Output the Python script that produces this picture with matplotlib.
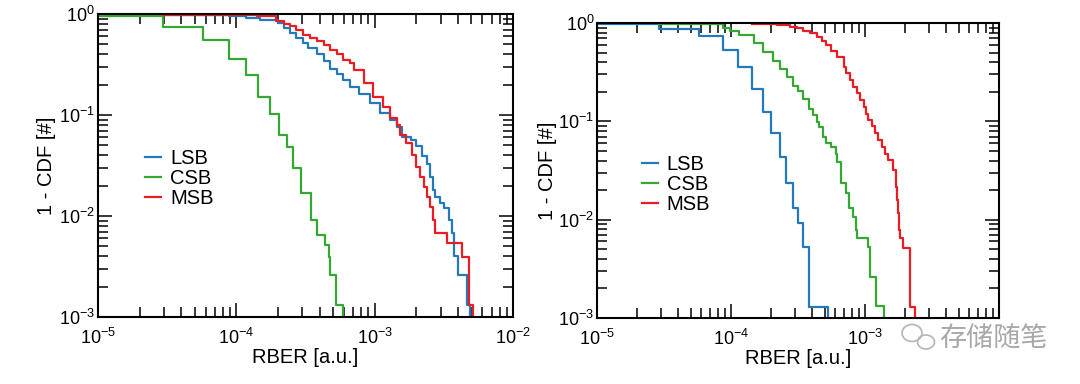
import matplotlib
matplotlib.use("Agg")
import matplotlib.pyplot as plt
from matplotlib.patches import Ellipse

plt.rcParams['font.family'] = ['Liberation Sans', 'DejaVu Sans']
plt.rcParams['mathtext.fontset'] = 'custom'
plt.rcParams['mathtext.rm'] = 'Liberation Sans'
plt.rcParams['mathtext.it'] = 'Liberation Sans:italic'
plt.rcParams['mathtext.bf'] = 'Liberation Sans:bold'
plt.rcParams['mathtext.default'] = 'regular'

# left panel: RBER where the 1-CDF steps down, and the new 1-CDF level
left_lsb_rber = [3.0e-5, 8.91e-5, 1.175e-4, 1.479e-4, 1.995e-4, 2.2e-4, 2.455e-4, 2.7e-4, 3.02e-4, 3.3e-4,
                 3.80e-4, 4.3e-4, 4.79e-4, 5.3e-4, 5.89e-4, 6.61e-4, 7.76e-4, 9.33e-4, 1.096e-3, 1.288e-3,
                 1.445e-3, 1.585e-3, 1.82e-3, 2.0e-3, 2.19e-3, 2.40e-3, 2.51e-3, 2.63e-3, 2.75e-3, 2.95e-3,
                 3.16e-3, 3.47e-3, 3.63e-3, 3.72e-3, 3.98e-3, 4.68e-3, 4.90e-3]
left_lsb_ccdf = [0.98, 0.96, 0.912, 0.871, 0.813, 0.73, 0.646, 0.58, 0.513, 0.46,
                 0.398, 0.34, 0.288, 0.255, 0.224, 0.191, 0.162, 0.132, 0.105, 0.0891,
                 0.0759, 0.0603, 0.0562, 0.0490, 0.0389, 0.0331, 0.0245, 0.0182, 0.0155, 0.0135,
                 0.0120, 0.00912, 0.00676, 0.00398, 0.00263, 0.00132, 0.0005]

left_csb_rber = [1e-5, 2.95e-5, 5.75e-5, 8.91e-5, 1.175e-4, 1.445e-4, 1.738e-4, 2.04e-4, 2.34e-4, 2.57e-4,
                 2.95e-4, 3.47e-4, 3.80e-4, 4.37e-4, 4.68e-4, 4.79e-4, 5.25e-4, 5.89e-4]
left_csb_ccdf = [0.955, 0.741, 0.557, 0.361, 0.251, 0.150, 0.102, 0.0634, 0.0485, 0.0296,
                 0.0170, 0.00912, 0.00649, 0.00516, 0.00395, 0.00261, 0.00132, 0.0005]

left_msb_rber = [2.95e-5, 1.122e-4, 1.413e-4, 1.66e-4, 1.95e-4, 2.2e-4, 2.455e-4, 2.7e-4, 3.02e-4, 3.4e-4,
                 3.80e-4, 4.3e-4, 4.79e-4, 5.3e-4, 5.89e-4, 6.61e-4, 7.08e-4, 8.32e-4, 9.77e-4, 1.148e-3,
                 1.288e-3, 1.445e-3, 1.514e-3, 1.698e-3, 1.862e-3, 2.0e-3, 2.14e-3, 2.29e-3, 2.40e-3, 2.51e-3,
                 2.63e-3, 2.75e-3, 3.31e-3, 4.27e-3, 4.79e-3, 5.13e-3]
left_msb_ccdf = [0.98, 0.975, 0.965, 0.948, 0.847, 0.80, 0.755, 0.69, 0.624, 0.58,
                 0.536, 0.49, 0.444, 0.40, 0.353, 0.327, 0.279, 0.206, 0.152, 0.121,
                 0.0927, 0.0796, 0.0634, 0.0524, 0.0402, 0.0308, 0.0245, 0.0195, 0.0155, 0.0124,
                 0.00912, 0.00675, 0.00537, 0.00395, 0.00132, 0.0005]

# right panel
right_lsb_rber = [1e-5, 2.88e-5, 5.75e-5, 8.71e-5, 1.135e-4, 1.445e-4, 1.738e-4, 1.995e-4, 2.34e-4, 2.57e-4,
                  2.88e-4, 3.16e-4, 3.43e-4, 3.80e-4, 5.25e-4]
right_lsb_ccdf = [0.98, 0.863, 0.743, 0.531, 0.354, 0.213, 0.125, 0.0755, 0.0437, 0.0237,
                  0.0130, 0.00916, 0.00522, 0.0013, 0.0005]

right_csb_rber = [2.88e-5, 8.71e-5, 9.77e-5, 1.148e-4, 1.479e-4, 1.738e-4, 2.04e-4, 2.34e-4, 2.63e-4, 2.88e-4,
                  3.16e-4, 3.47e-4, 3.80e-4, 4.07e-4, 4.37e-4, 4.57e-4, 4.90e-4, 5.13e-4, 5.62e-4, 6.03e-4,
                  6.17e-4, 6.61e-4, 7.24e-4, 7.59e-4, 8.13e-4, 8.51e-4, 8.71e-4, 1.047e-3, 1.096e-3, 1.202e-3,
                  1.380e-3]
right_csb_ccdf = [0.98, 0.889, 0.836, 0.755, 0.631, 0.511, 0.410, 0.338, 0.280, 0.229,
                  0.203, 0.168, 0.135, 0.116, 0.099, 0.0869, 0.0697, 0.0597, 0.0552, 0.0465,
                  0.0388, 0.0237, 0.0188, 0.0130, 0.0107, 0.00783, 0.00646, 0.00522, 0.00262, 0.00132,
                  0.0005]

right_msb_rber = [1.445e-4, 2.19e-4, 2.75e-4, 3.09e-4, 3.47e-4, 3.89e-4, 4.37e-4, 4.79e-4, 5.13e-4, 5.62e-4,
                  6.17e-4, 6.92e-4, 7.24e-4, 7.76e-4, 8.13e-4, 8.71e-4, 9.12e-4, 9.77e-4, 1.023e-3, 1.059e-3,
                  1.122e-3, 1.189e-3, 1.259e-3, 1.33e-3, 1.413e-3, 1.493e-3, 1.622e-3, 1.698e-3, 1.738e-3, 1.778e-3,
                  1.80e-3, 1.824e-3, 1.932e-3, 2.168e-3, 2.36e-3]
right_msb_ccdf = [0.98, 0.955, 0.916, 0.881, 0.836, 0.785, 0.726, 0.661, 0.597, 0.525,
                  0.454, 0.359, 0.309, 0.263, 0.224, 0.193, 0.166, 0.141, 0.120, 0.103,
                  0.0891, 0.0755, 0.0646, 0.0552, 0.0468, 0.0404, 0.0320, 0.0216, 0.0158, 0.0116,
                  0.00794, 0.00646, 0.0051, 0.0013, 0.0005]

labels = ["LSB", "CSB", "MSB"]
colors = ["#2479bd", "#35a834", "#ec1c24"]


def draw_panel(ax, series, legend_anchor):
    for (x, y), lab, col in zip(series, labels, colors):
        ax.step(x, y, where="post", color=col, lw=1.6, label=lab)
    ax.set_xscale("log")
    ax.set_yscale("log")
    ax.set_xlim(1e-5, 1e-2)
    ax.set_ylim(1e-3, 1)
    ax.tick_params(which="both", direction="in", top=True, right=True, width=1.1, labelsize=13)
    ax.tick_params(which="major", length=10)
    ax.tick_params(axis="x", which="major", pad=8)
    ax.tick_params(axis="y", which="major", pad=2)
    ax.tick_params(which="minor", length=7)
    for s in ax.spines.values():
        s.set_linewidth(1.5)
    ax.set_xlabel("RBER [a.u.]", fontsize=14.5, labelpad=0)
    ax.set_ylabel("1 - CDF [#]", fontsize=14.5)
    ax.yaxis.set_label_coords(-0.1, 0.5)
    ax.legend(loc="upper left", bbox_to_anchor=legend_anchor, frameon=False, fontsize=14.5,
              handlelength=0.8, handletextpad=0.45, labelspacing=0.05,
              borderpad=0, borderaxespad=0)


fig = plt.figure(figsize=(10.8, 3.84), dpi=100)
ax1 = fig.add_axes([0.0907, 0.1745, 0.3843, 0.789])
ax2 = fig.add_axes([0.5528, 0.1719, 0.3722, 0.768])

draw_panel(ax1, [(left_lsb_rber, left_lsb_ccdf), (left_csb_rber, left_csb_ccdf),
                 (left_msb_rber, left_msb_ccdf)], (0.113, 0.555))
draw_panel(ax2, [(right_lsb_rber, right_lsb_ccdf), (right_csb_rber, right_csb_ccdf),
                 (right_msb_rber, right_msb_ccdf)], (0.111, 0.553))

# the watermark covers the last x label of the right panel
fig.canvas.draw()
for lab in ax2.get_xticklabels():
    if lab.get_position()[0] >= 1e-2 * 0.99:
        lab.set_visible(False)

fig.add_artist(Ellipse((912 / 1080, 1 - 333 / 384), 20 / 1080, 17 / 384, transform=fig.transFigure,
                       fill=False, ec="#b5b5b5", lw=1.2))
fig.add_artist(Ellipse((926 / 1080, 1 - 342 / 384), 17 / 1080, 14 / 384, transform=fig.transFigure,
                       fill=False, ec="#b5b5b5", lw=1.2))
fig.text(0.870, 0.118, "存储随笔", fontsize=19.5, color="#a8a8a8", va="center",
         family=["Noto Sans CJK SC", "DejaVu Sans"])

fig.savefig("out.png", dpi=100)
